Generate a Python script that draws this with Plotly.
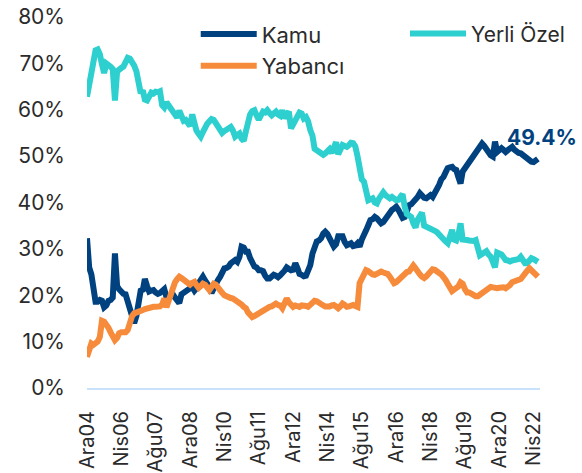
import pandas as pd
import plotly.graph_objects as go

# Monthly shares (%) from Dec 2004 to Jun 2022
start_month = "2004-12-01"

kamu = [
    32.3, 26.0, 24.5, 21.5, 18.6, 18.6, 19.0, 18.8, 17.4, 17.8,
    18.8, 19.0, 19.5, 29.0, 22.0, 21.3, 20.5, 20.3, 20.2, 18.5,
    17.0, 14.5, 14.0, 15.5, 19.0, 21.0, 21.2, 23.5, 22.0, 20.8,
    21.0, 21.1, 20.6, 20.3, 20.5, 21.2, 21.3, 19.6, 19.4, 19.8,
    20.2, 19.5, 18.8, 18.3, 20.2, 20.5, 20.6, 21.0, 21.5, 21.8,
    21.0, 21.5, 22.6, 23.6, 24.0, 23.2, 22.6, 21.8, 20.5, 21.5,
    22.9, 23.3, 24.0, 25.0, 25.8, 25.9, 26.2, 26.9, 27.3, 27.6,
    27.2, 28.3, 30.5, 30.3, 29.4, 29.4, 28.0, 26.8, 26.2, 26.0,
    25.4, 25.4, 25.2, 24.2, 23.6, 23.6, 24.2, 24.4, 24.2, 23.9,
    24.3, 24.7, 25.3, 26.0, 25.6, 25.4, 25.5, 26.9, 25.8, 24.6,
    24.4, 24.1, 24.2, 25.5, 26.5, 29.0, 30.5, 31.6, 31.8, 32.3,
    33.3, 33.7, 33.2, 32.3, 31.9, 30.5, 31.0, 32.7, 32.7, 32.7,
    31.5, 30.8, 31.0, 31.2, 30.6, 30.7, 31.2, 30.5, 32.0, 33.4,
    34.0, 35.1, 36.2, 36.4, 36.9, 36.6, 35.8, 35.5, 35.8, 36.5,
    36.9, 37.5, 38.4, 38.7, 39.1, 38.4, 37.5, 36.7, 36.9, 38.5,
    39.4, 39.6, 40.1, 40.5, 41.2, 42.0, 41.2, 41.0, 40.9, 41.3,
    41.6, 41.2, 42.0, 42.5, 43.8, 45.0, 45.5, 46.5, 47.4, 47.6,
    47.7, 47.2, 47.0, 45.5, 44.1, 46.7, 47.4, 47.7, 48.5, 49.3,
    49.9, 50.5, 51.0, 51.8, 52.7, 52.2, 51.5, 50.6, 50.2, 49.9,
    53.1, 50.9, 51.2, 51.7, 51.3, 50.9, 51.3, 51.8, 52.0, 51.4,
    50.9, 50.7, 50.6, 50.2, 49.9, 49.6, 49.3, 48.8, 48.7, 48.9,
    49.4,
]

yerli_ozel = [
    62.8, 65.5, 69.0, 71.5, 72.8, 73.0, 72.0, 69.8, 67.9, 70.0,
    69.8, 69.3, 68.8, 62.0, 68.3, 68.8, 69.0, 69.3, 70.2, 71.2,
    71.0, 70.3, 69.5, 68.3, 65.5, 63.6, 64.2, 62.2, 62.0, 63.0,
    63.7, 63.5, 63.9, 63.8, 64.0, 61.0, 60.5, 61.6, 61.0, 60.0,
    59.5, 58.8, 58.3, 59.8, 59.0, 57.6, 57.8, 57.3, 56.5, 59.0,
    56.3, 55.5, 54.8, 54.2, 55.2, 56.5, 57.0, 57.5, 58.0, 57.8,
    57.0, 56.3, 55.5, 55.0, 55.4, 55.8, 56.0, 56.3, 55.5, 54.2,
    54.6, 54.9, 53.8, 53.3, 55.4, 57.5, 59.0, 59.7, 59.9, 58.8,
    57.9, 58.8, 59.6, 59.4, 59.9, 59.3, 58.8, 59.2, 59.6, 59.0,
    58.7, 59.9, 58.2, 59.0, 59.6, 56.0, 57.0, 57.8, 58.5, 59.4,
    59.2, 58.1, 58.4, 57.5, 55.6, 54.4, 51.6, 51.2, 50.9, 50.6,
    50.3, 50.6, 51.3, 51.5, 50.7, 51.8, 53.0, 50.4, 51.6, 52.4,
    52.2, 52.0, 52.4, 52.9, 52.8, 52.1, 50.0, 46.5, 45.0, 44.5,
    42.4, 40.5, 40.7, 40.9, 40.0, 39.8, 40.8, 41.8, 42.2, 41.6,
    41.2, 40.9, 41.2, 40.8, 40.5, 40.6, 41.2, 41.8, 39.0, 37.5,
    37.2, 36.9, 35.5, 34.6, 36.3, 37.5, 37.8, 35.0, 34.8, 34.8,
    34.6, 34.2, 33.9, 33.6, 33.0, 32.4, 32.0, 31.6, 31.2, 32.5,
    34.1, 32.0, 31.8, 33.0, 35.5, 32.0, 31.8, 31.9, 31.8, 31.6,
    31.7, 31.9, 30.5, 28.6, 28.9, 29.4, 29.5, 28.8, 28.3, 27.2,
    26.0, 29.2, 29.0, 28.8, 28.2, 27.6, 27.5, 27.3, 27.5, 27.6,
    27.6, 27.8, 28.3, 27.5, 26.9, 26.9, 27.4, 28.0, 27.8, 27.6,
    27.2,
]

yabanci = [
    6.7, 8.5, 9.6, 9.3, 9.5, 10.0, 11.0, 14.5, 14.3, 13.8,
    13.0, 12.0, 11.0, 10.3, 10.8, 11.8, 12.0, 12.1, 12.0, 12.5,
    14.5, 15.5, 16.1, 16.2, 16.4, 16.6, 16.8, 17.0, 17.2, 17.4,
    17.5, 17.5, 17.5, 17.5, 17.6, 18.0, 19.3, 17.4, 19.0, 20.5,
    21.5, 22.8, 23.5, 24.0, 23.7, 23.3, 22.8, 22.4, 22.3, 22.7,
    22.9, 22.2, 21.6, 22.0, 22.5, 22.3, 21.5, 21.1, 21.8, 22.5,
    22.3, 21.5, 21.0, 20.5, 20.0, 19.7, 19.6, 19.4, 19.3, 19.0,
    18.8, 18.6, 18.0, 17.5, 17.2, 16.3, 15.6, 15.3, 15.5, 15.8,
    16.2, 16.6, 16.8, 17.0, 17.3, 17.5, 17.6, 18.0, 18.2, 17.9,
    17.8, 17.2, 18.0, 19.3, 18.5, 18.0, 17.5, 17.8, 17.5, 17.5,
    17.8, 17.9, 17.7, 17.5, 17.9, 18.2, 18.8, 18.7, 18.3, 17.9,
    17.8, 17.6, 17.5, 17.6, 17.8, 17.9, 17.6, 17.2, 17.6, 18.2,
    17.9, 17.5, 17.6, 17.8, 17.9, 17.7, 17.5, 22.6, 23.6, 24.2,
    25.4, 25.2, 24.7, 24.5, 24.4, 24.6, 24.9, 25.1, 24.9, 24.8,
    24.6, 24.0, 23.2, 22.6, 22.8, 23.3, 23.6, 24.2, 24.6, 25.0,
    25.1, 25.6, 26.4, 25.8, 24.9, 24.5, 24.0, 23.7, 24.1, 24.7,
    25.0, 25.6, 25.5, 25.0, 24.8, 24.5, 24.0, 23.3, 22.5, 21.6,
    20.9, 21.2, 21.6, 21.9, 22.8, 22.5, 21.3, 20.6, 20.6, 20.3,
    20.0, 19.8, 19.8, 20.1, 20.4, 20.7, 21.3, 21.6, 21.8, 21.7,
    21.5, 21.5, 21.6, 21.8, 21.7, 21.5, 21.8, 22.2, 22.8, 23.0,
    23.2, 23.5, 23.5, 24.1, 24.9, 25.3, 25.8, 25.3, 24.6, 24.3,
    24.0,
]

tick_dates = [
    "2004-12-01", "2006-04-01", "2007-08-01", "2008-12-01", "2010-04-01",
    "2011-08-01", "2012-12-01", "2014-04-01", "2015-08-01", "2016-12-01",
    "2018-04-01", "2019-08-01", "2020-12-01", "2022-04-01",
]
tick_labels = [
    "Ara04", "Nis06", "Ağu07", "Ara08", "Nis10", "Ağu11", "Ara12",
    "Nis14", "Ağu15", "Ara16", "Nis18", "Ağu19", "Ara20", "Nis22",
]

dates = pd.date_range(start_month, periods=len(kamu), freq="MS")

FONT = "Inter"
TEXT = "#2b2b2b"
C_KAMU = "#00427f"
C_YERLI = "#2ecfcf"
C_YAB = "#f78b3c"

fig = go.Figure()
# Kamu and Yabancı share the left legend column, Yerli Özel sits in the right one
for name, vals, col, leg in [
    ("Kamu", kamu, C_KAMU, "legend"),
    ("Yerli Özel", yerli_ozel, C_YERLI, "legend2"),
    ("Yabancı", yabanci, C_YAB, "legend"),
]:
    fig.add_trace(go.Scatter(
        x=dates, y=vals, name=name, mode="lines",
        line=dict(color=col, width=6),
        legend=leg, hoverinfo="skip",
    ))

# Latest value of the public-sector share
fig.add_annotation(
    x=dates[-1], y=kamu[-1], text=f"<b>{kamu[-1]:.1f}%</b>",
    showarrow=False, xanchor="left", yanchor="middle",
    xshift=-33, yshift=21,
    font=dict(family=FONT, size=21, color=C_KAMU),
)

legend_style = dict(
    orientation="v", xanchor="left", yanchor="top", itemwidth=56,
    bgcolor="rgba(0,0,0,0)", tracegroupgap=0,
)

fig.update_layout(
    width=582, height=473,
    margin=dict(l=87, r=42, t=17, b=85),
    paper_bgcolor="white", plot_bgcolor="white",
    font=dict(family=FONT, color=TEXT),
    showlegend=True,
    legend=dict(x=0.24, y=1.01, font=dict(family=FONT, size=22, color=TEXT),
                **legend_style),
    legend2=dict(x=0.702, y=1.01, font=dict(family=FONT, size=21, color=TEXT),
                 **legend_style),
    xaxis=dict(
        type="date", range=["2004-12-01", "2022-07-01"],
        tickmode="array", tickvals=tick_dates, ticktext=tick_labels,
        tickangle=-90, tickfont=dict(family=FONT, size=20, color=TEXT),
        showgrid=False, zeroline=False,
        showline=True, linecolor="#c8e2fb", linewidth=2,
        ticks="", ticklabelstandoff=13, automargin=False,
    ),
    yaxis=dict(
        range=[0, 80], dtick=10, ticksuffix="%",
        tickfont=dict(family=FONT, size=21, color=TEXT),
        showgrid=False, zeroline=False, showline=False,
        ticks="", ticklabelstandoff=21, automargin=False,
    ),
)

fig.write_html("out.html")
